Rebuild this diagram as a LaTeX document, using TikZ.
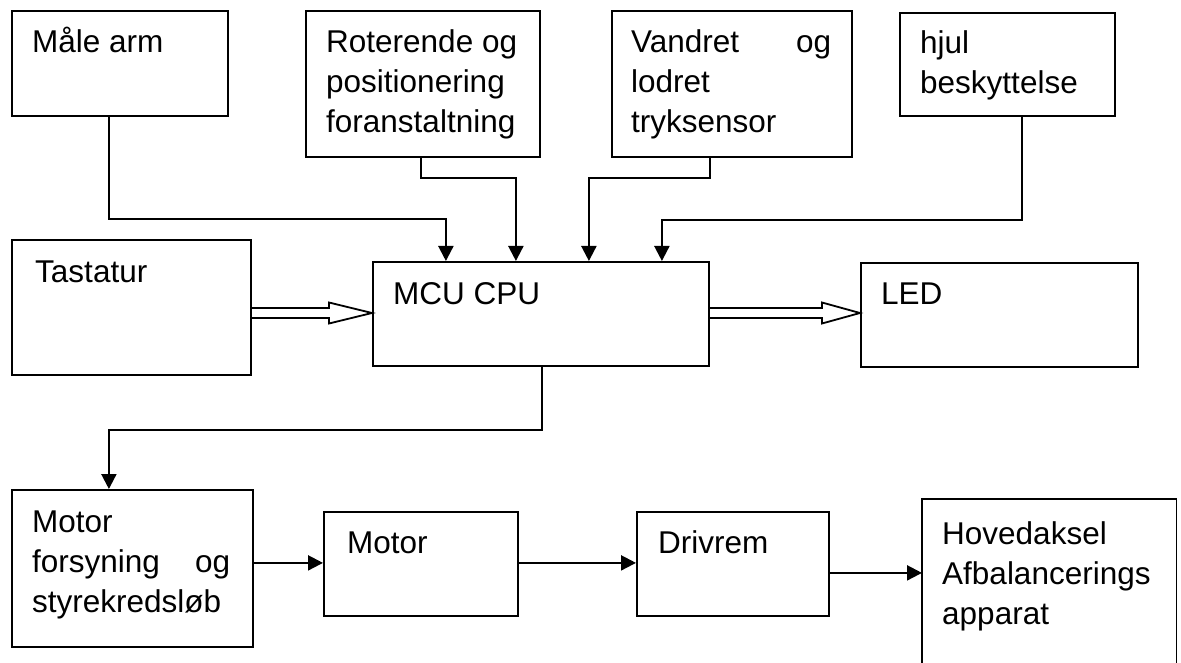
\documentclass[tikz,border=0pt]{standalone}
\usepackage{fontspec}
\setmainfont{Liberation Sans}
\usetikzlibrary{arrows.meta,calc}
\newcommand\boxtext[2]{\parbox[t]{#1}{#2}}
\begin{document}
\begin{tikzpicture}[x=1pt,y=-1pt,
  box/.style={draw,line width=1.8pt,inner sep=0pt,anchor=north west},
  frame/.style={line width=1.8pt},
  txt/.style={font=\fontsize{31.5}{40}\selectfont,inner sep=0pt,anchor=base west},
  conn/.style={line width=2.2pt,-{Triangle[length=15pt,width=15pt]}},
  hollow/.style={line width=1.8pt,line join=miter}
]
\useasboundingbox (0,0) rectangle (1181,663);

% boxes
\node[box,minimum width=216pt,minimum height=105pt] (male) at (11,10) {};
\node[box,minimum width=234pt,minimum height=146pt] (rot) at (305,10) {};
\node[box,minimum width=240pt,minimum height=146pt] (vand) at (611,10) {};
\node[box,minimum width=215pt,minimum height=103pt] (hjul) at (899,12) {};
\node[box,minimum width=239pt,minimum height=135pt] (tast) at (11,239) {};
\node[box,minimum width=336pt,minimum height=104pt] (mcu) at (372,261) {};
\node[box,minimum width=277pt,minimum height=104pt] (led) at (860,262) {};
\node[box,minimum width=241pt,minimum height=157pt] (mfors) at (11,489) {};
\node[box,minimum width=194pt,minimum height=104pt] (motor) at (323,511) {};
\node[box,minimum width=192pt,minimum height=104pt] (driv) at (636,511) {};
\node[inner sep=0pt,anchor=north west,minimum width=254pt,minimum height=166pt] (hoved) at (922,499) {};
\draw[frame] (hoved.south west) -- (hoved.north west) -- (hoved.north east) -- (hoved.south east);

% texts
\node[txt] (tmale) at (32,53) {Måle arm};
\node[txt] (trot) at (326,53) {\boxtext{205pt}{Roterende og\\positionering\\foranstaltning}};
\node[txt] (tvand) at (631,53) {\boxtext{200pt}{Vandret\hfill og\\lodret\\tryksensor}};
\node[txt] (thjul) at (920,54) {\boxtext{185pt}{hjul\\beskyttelse}};
\node[txt] (ttast) at (35,282) {Tastatur};
\node[txt] (tmcu) at (393,304) {MCU CPU};
\node[txt] (tled) at (881,305) {LED};
\node[txt] (tmfors) at (32,532) {\boxtext{198pt}{Motor\\forsyning\hfill og\\styrekredsløb}};
\node[txt] (tmotor) at (347,553) {Motor};
\node[txt] (tdriv) at (658,553) {Drivrem};
\node[txt] (thoved) at (942,544) {\boxtext{225pt}{Hovedaksel\\Afbalancerings\\apparat}};

% connectors into MCU
\draw[conn] ([xshift=-11pt]male.south) |- ([xshift=-95pt,yshift=42pt]mcu.north) -- ([xshift=-95pt]mcu.north);
\draw[conn] ([xshift=-2pt]rot.south) |- ([xshift=-25pt,yshift=83pt]mcu.north) -- ([xshift=-25pt]mcu.north);
\draw[conn] ([xshift=-22pt]vand.south) |- ([xshift=48pt,yshift=83pt]mcu.north) -- ([xshift=48pt]mcu.north);
\draw[conn] ([xshift=14.5pt]hjul.south) |- ([xshift=121pt,yshift=41pt]mcu.north) -- ([xshift=121pt]mcu.north);

% hollow double arrows
\coordinate (ky) at (0,313);
\draw[hollow] ($(tast.east |- ky)+(0,-5)$) -- ($(mcu.west |- ky)+(-43,-5)$) -- ($(mcu.west |- ky)+(-43,-10.5)$) -- (mcu.west |- ky) -- ($(mcu.west |- ky)+(-43,10.5)$) -- ($(mcu.west |- ky)+(-43,5)$) -- ($(tast.east |- ky)+(0,5)$);
\draw[hollow] ($(mcu.east |- ky)+(0,-5)$) -- ($(led.west |- ky)+(-38,-5)$) -- ($(led.west |- ky)+(-38,-10.5)$) -- (led.west |- ky) -- ($(led.west |- ky)+(-38,10.5)$) -- ($(led.west |- ky)+(-38,5)$) -- ($(mcu.east |- ky)+(0,5)$);

% MCU down to motor supply
\draw[conn] ([xshift=1pt]mcu.south) -- ++(0,63) -| ([xshift=-23.5pt]mfors.north);

% bottom chain
\draw[conn] ([yshift=5.5pt]mfors.east) -- ([yshift=5.5pt]mfors.east -| motor.west);
\draw[conn] ([yshift=1pt]motor.east) -- ([yshift=1pt]driv.west);
\draw[conn] ([yshift=-9pt]driv.east) -- ([yshift=-9pt]driv.east -| hoved.west);
\end{tikzpicture}
\end{document}
